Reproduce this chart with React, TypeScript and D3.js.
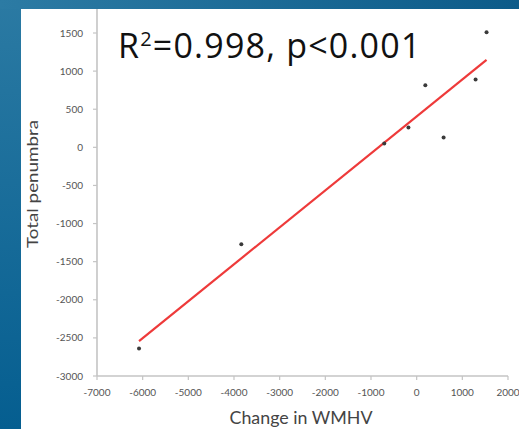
import * as d3 from "d3";

// Change in WMHV vs total penumbra
const wmhvChange = [-6080, -3840, -710, -180, 190, 590, 1290, 1530];
const penumbra = [-2640, -1270, 50, 260, 815, 130, 890, 1510];
const xTicks = [-7000, -6000, -5000, -4000, -3000, -2000, -1000, 0, 1000, 2000];
const yTicks = [-3000, -2500, -2000, -1500, -1000, -500, 0, 500, 1000, 1500];

const W = 519;
const H = 429;
const panel = { left: 21, top: 9 };

export default function App() {
  const x = d3.scaleLinear().domain([-7000, 2000]).range([97, 508]);
  const y = d3.scaleLinear().domain([-3000, 1500]).range([376, 33]);

  // least squares fit
  const mx = d3.mean(wmhvChange) as number;
  const my = d3.mean(penumbra) as number;
  const sxy = d3.sum(wmhvChange, (v, i) => (v - mx) * (penumbra[i] - my));
  const sxx = d3.sum(wmhvChange, (v) => (v - mx) ** 2);
  const slope = sxy / sxx;
  const intercept = my - slope * mx;
  const [x0, x1] = d3.extent(wmhvChange) as [number, number];
  const fit = d3
    .line<number>()
    .x((d) => x(d))
    .y((d) => y(slope * d + intercept));

  const x0px = x.range()[0];
  const y0px = y.range()[0];
  const tickFont = "Lato, 'DejaVu Sans', sans-serif";

  return (
    <div style={{ position: "fixed", left: 0, top: 0 }}>
      <svg width={W} height={H} style={{ display: "block" }}>
        <defs>
          <linearGradient id="topBand" x1="0" x2="1" y1="0" y2="0">
            <stop offset="0" stopColor="#2c7ba4" />
            <stop offset="1" stopColor="#0d5b89" />
          </linearGradient>
          <linearGradient id="leftBand" x1="0" x2="0" y1="0" y2="1">
            <stop offset="0" stopColor="#2b7aa3" />
            <stop offset="1" stopColor="#055e90" />
          </linearGradient>
        </defs>
        <rect x={0} y={0} width={W} height={H} fill="url(#leftBand)" />
        <rect x={0} y={0} width={W} height={panel.top} fill="url(#topBand)" />
        <rect x={panel.left} y={panel.top} width={W - panel.left} height={H - panel.top} fill="#ffffff" />

        {/* axes */}
        <line x1={x0px} x2={x0px} y1={panel.top} y2={y0px} stroke="#c4c4c4" strokeWidth={1.6} />
        <line x1={x0px} x2={x.range()[1]} y1={y0px} y2={y0px} stroke="#c4c4c4" strokeWidth={1.6} />

        {yTicks.map((t) => (
          <g key={"y" + t}>
            <line x1={x0px - 4} x2={x0px} y1={y(t)} y2={y(t)} stroke="#c4c4c4" strokeWidth={1.2} />
            <text
              x={x0px - 14}
              y={y(t)}
              dy="0.35em"
              textAnchor="end"
              fontFamily={tickFont}
              fontSize={10}
              fill="#555"
            >
              {t}
            </text>
          </g>
        ))}

        {xTicks.map((t) => (
          <g key={"x" + t}>
            <line x1={x(t)} x2={x(t)} y1={y0px} y2={y0px + 4} stroke="#c4c4c4" strokeWidth={1.2} />
            <text
              x={x(t)}
              y={y0px + 20}
              textAnchor="middle"
              fontFamily={tickFont}
              fontSize={10}
              fill="#555"
            >
              {t}
            </text>
          </g>
        ))}

        <text
          transform={`translate(38, 184) rotate(-90)`}
          textAnchor="middle"
          fontFamily={tickFont}
          fontSize={16}
          fill="#444"
          textLength={128}
          lengthAdjust="spacingAndGlyphs"
        >
          Total penumbra
        </text>
        <text
          x={301}
          y={424}
          textAnchor="middle"
          fontFamily={tickFont}
          fontSize={17}
          fill="#444"
          textLength={143}
          lengthAdjust="spacingAndGlyphs"
        >
          Change in WMHV
        </text>

        <path d={fit([x0, x1]) ?? ""} fill="none" stroke="#ee3a3a" strokeWidth={2.2} />

        {wmhvChange.map((v, i) => (
          <circle key={"p" + i} cx={x(v)} cy={y(penumbra[i])} r={2} fill="#3a3a3a" />
        ))}

        <text
          x={118}
          y={58}
          fontFamily="'Open Sans', sans-serif"
          fontSize={34}
          fill="#111"
          letterSpacing={1.2}
        >
          R
          <tspan fontSize={20} dy={-12}>
            2
          </tspan>
          <tspan dy={12}>=0.998, p&lt;0.001</tspan>
        </text>
      </svg>
    </div>
  );
}
